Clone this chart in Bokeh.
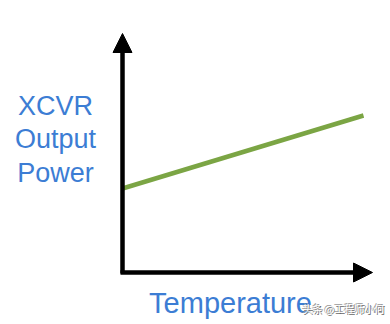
from bokeh.plotting import figure
from bokeh.models import Range1d, Arrow, NormalHead, Label
from bokeh.embed import file_html
from bokeh.resources import INLINE

# data (origin at the axes corner)
temperature = [0, 241]
output_power = [84, 157]
y_title_lines = ["XCVR", "Output", "Power"]
x_title = "Temperature"
watermark = "头条 @工程师小何"

p = figure(width=390, height=324, output_backend="svg", toolbar_location=None,
           x_range=Range1d(-122, 268), y_range=Range1d(-52, 272),
           min_border=0)
p.axis.visible = False
p.grid.visible = False
p.outline_line_color = None
p.background_fill_color = "white"
p.border_fill_color = "white"

p.line(temperature, output_power, line_color="#7ba544", line_width=4.5)

# axes with arrows
p.add_layout(Arrow(end=NormalHead(size=19, fill_color="black", line_color="black", line_width=1),
                   x_start=0, y_start=-1, x_end=0, y_end=239,
                   line_width=4.5, line_color="black"))
p.add_layout(Arrow(end=NormalHead(size=19, fill_color="black", line_color="black", line_width=1),
                   x_start=-2, y_start=0, x_end=250, y_end=0,
                   line_width=4.5, line_color="black"))

blue = "#3c7dd4"
for i, t in enumerate(y_title_lines):
    p.add_layout(Label(x=-67, y=167 - i * 33.5, text=t, text_align="center", text_baseline="middle",
                       text_font="Liberation Sans", text_font_size="27px", text_color=blue))
p.add_layout(Label(x=108, y=-30, text=x_title, text_align="center", text_baseline="middle",
                   text_font="Liberation Sans", text_font_size="29px", text_color=blue))

for dx, dy, col in [(1, -1, "#666666"), (-1, 1, "#999999"), (0, 0, "white")]:
    p.add_layout(Label(x=180 + dx, y=-36 + dy, text=watermark, text_align="left", text_baseline="middle",
                       text_font="Noto Sans CJK SC", text_font_size="10px", text_color=col))

open("out.html", "w").write(file_html(p, INLINE))
